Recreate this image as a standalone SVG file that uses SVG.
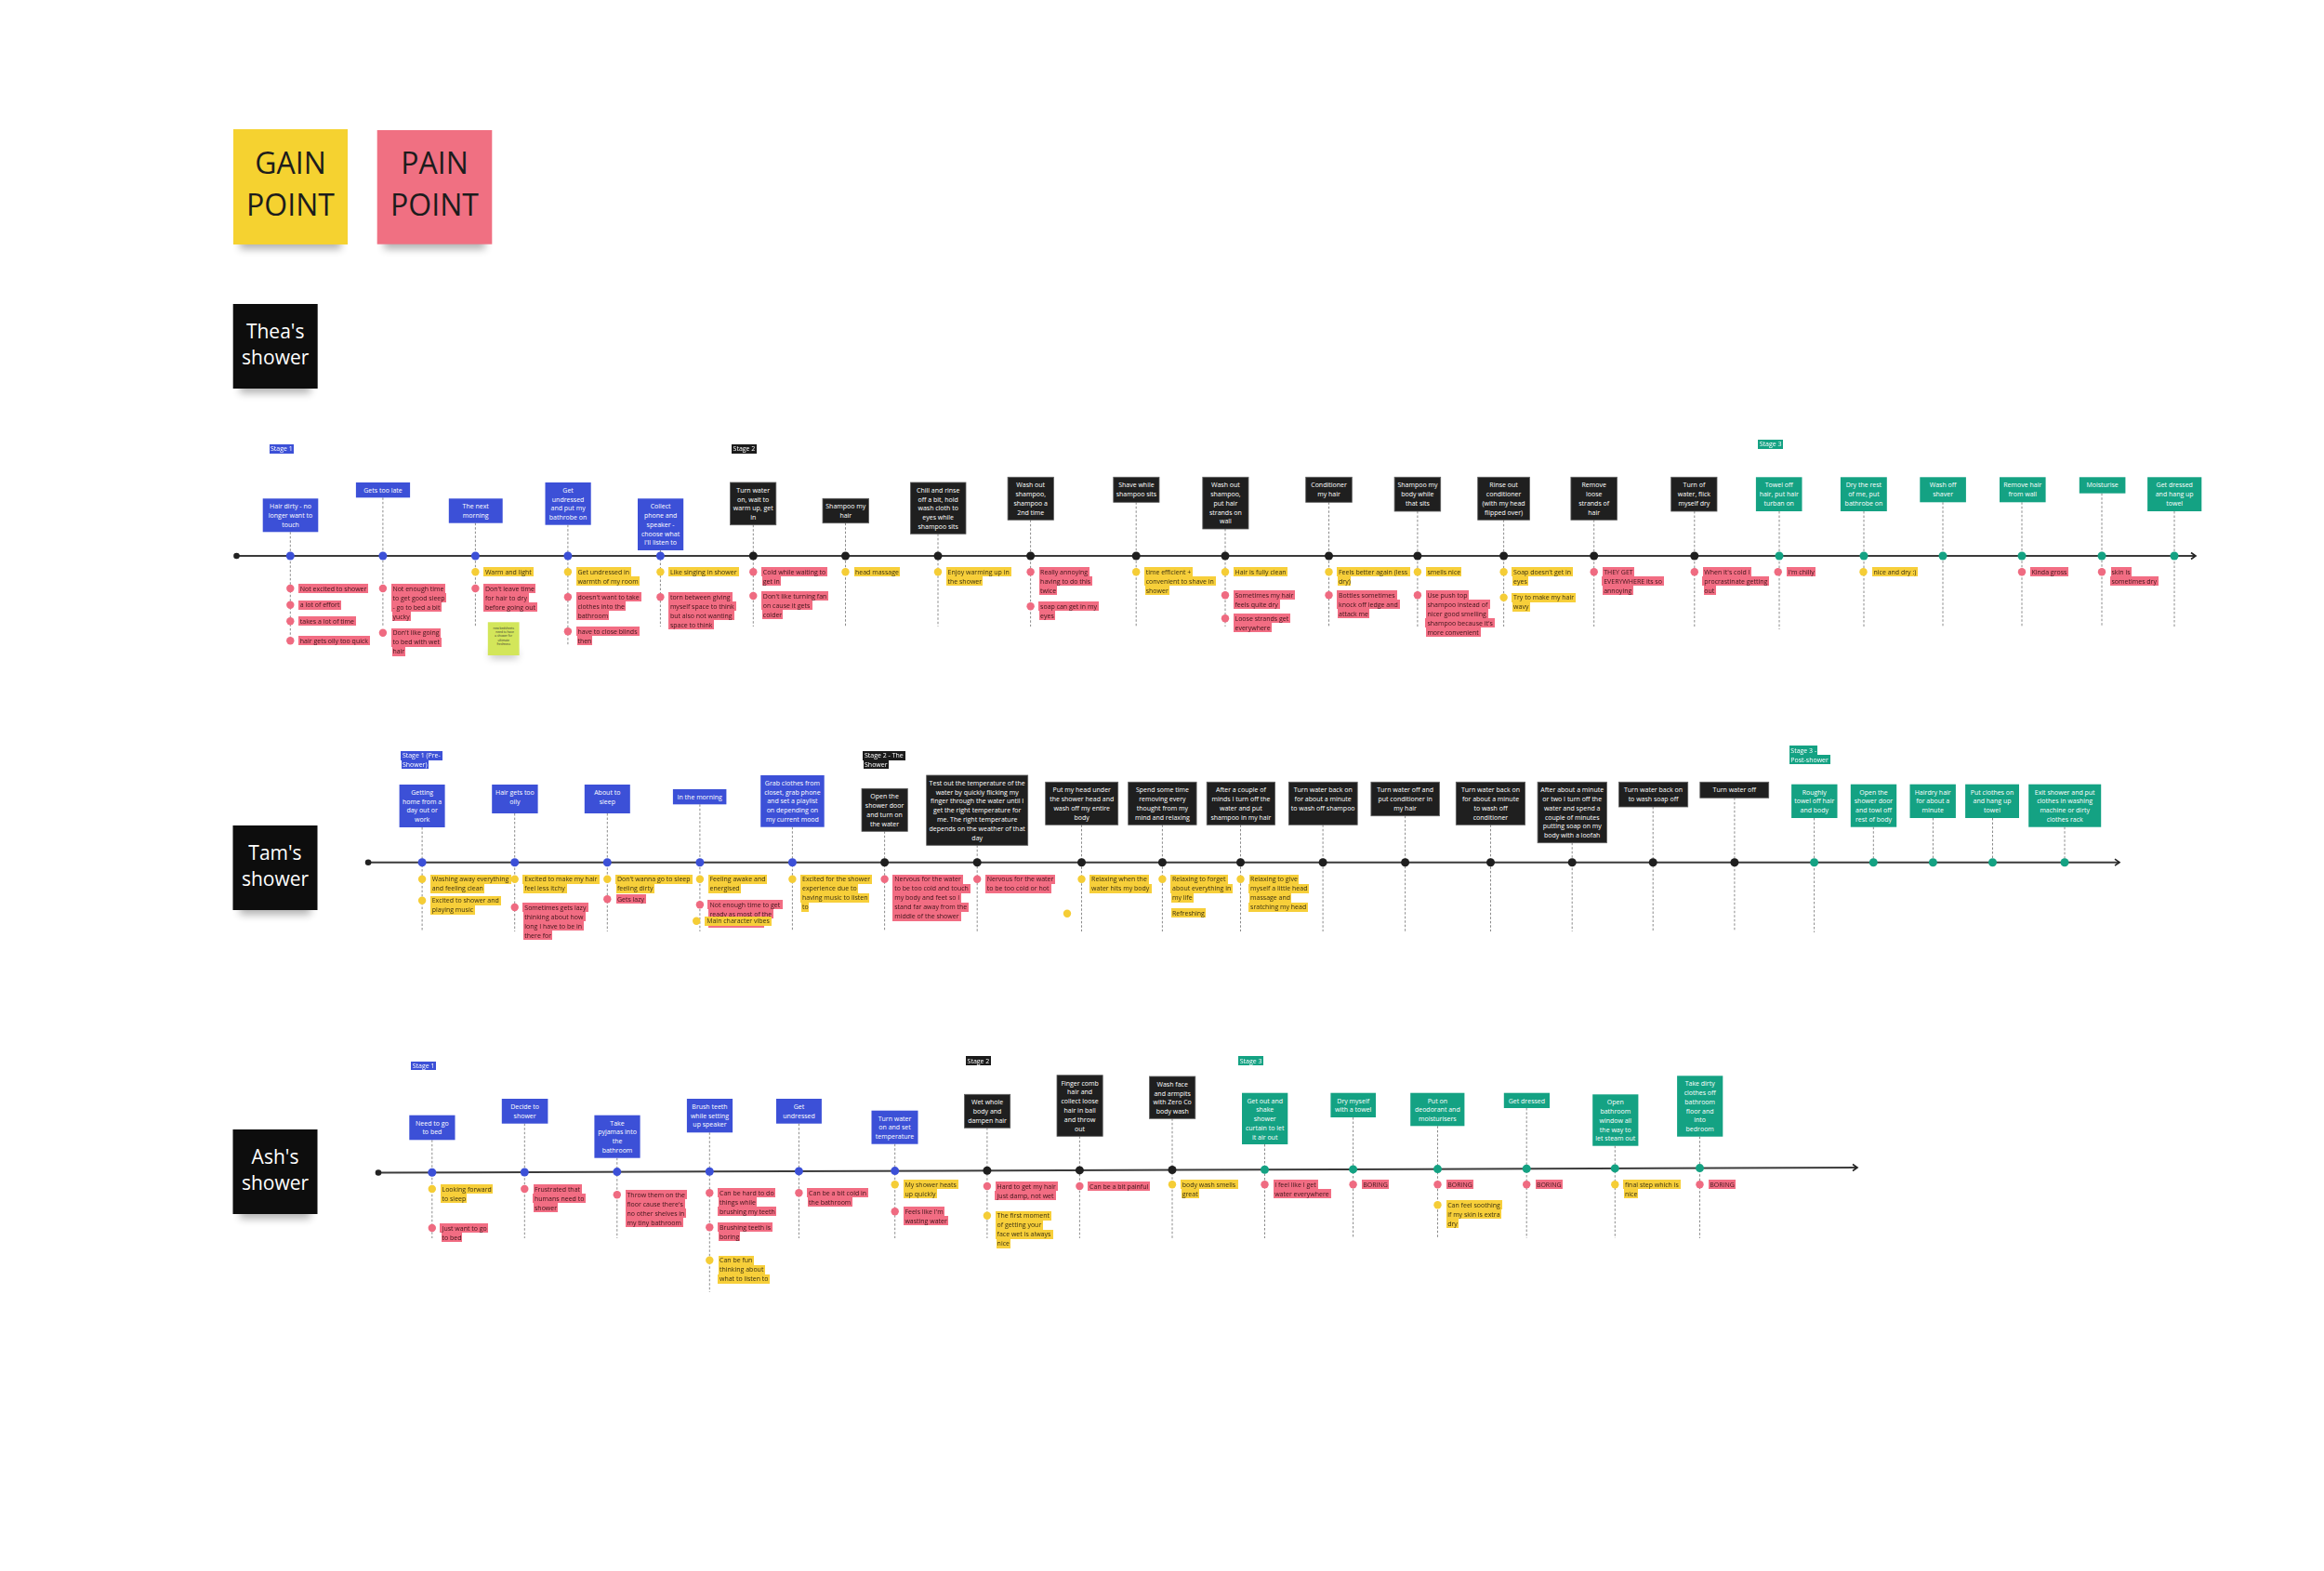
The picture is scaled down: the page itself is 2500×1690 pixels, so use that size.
<svg xmlns="http://www.w3.org/2000/svg" width="2500" height="1690" viewBox="0 0 2500 1690">
<defs>
<style>
text{font-family:"Open Sans","Liberation Sans",Arial,sans-serif}
.bt{font-size:7px;fill:#fff;text-anchor:middle}
.nt{font-size:7px}
.p{fill:#3e1419;filter:url(#fp)}
.y{fill:#3b3110;filter:url(#fy)}
.sl{font-size:7px;fill:#fff}
.sB{filter:url(#fB)} .sK{filter:url(#fK)} .sG{filter:url(#fG)}
.B{fill:#3c50d7} .K{fill:#1f1f1f} .G{fill:#14a283}
rect.K{stroke:#5e5e5e;stroke-width:.8}
.dp{fill:#ef6b81} .dy{fill:#f5cd36}
.st{stroke:#8a8a8a;stroke-width:1;stroke-dasharray:2.5 2;fill:none}
.tl{stroke:#3b3b3b;stroke-width:2;fill:none;marker-end:url(#arr)}
.sd{fill:#222}
.big{font-size:32px;fill:#1c1c1c;text-anchor:middle}
.who{font-size:21px;fill:#fff;text-anchor:middle}
.shd{fill:#000;opacity:.3;filter:url(#blur)}
.tiny{font-size:3.2px;fill:#333;text-anchor:middle}
</style>
<filter id="fp" x="-0.02" y="0" width="1.04" height="1" color-interpolation-filters="sRGB"><feFlood flood-color="#f26d83"/><feComposite in="SourceGraphic" operator="over"/></filter>
<filter id="fy" x="-0.02" y="0" width="1.04" height="1" color-interpolation-filters="sRGB"><feFlood flood-color="#f7cf3a"/><feComposite in="SourceGraphic" operator="over"/></filter>
<filter id="fB" x="-0.03" y="0" width="1.06" height="1" color-interpolation-filters="sRGB"><feFlood flood-color="#3c50d7"/><feComposite in="SourceGraphic" operator="over"/></filter>
<filter id="fK" x="-0.03" y="0" width="1.06" height="1" color-interpolation-filters="sRGB"><feFlood flood-color="#1b1b1b"/><feComposite in="SourceGraphic" operator="over"/></filter>
<filter id="fG" x="-0.03" y="0" width="1.06" height="1" color-interpolation-filters="sRGB"><feFlood flood-color="#14a283"/><feComposite in="SourceGraphic" operator="over"/></filter>
<filter id="blur" x="-30%" y="-100%" width="160%" height="300%"><feGaussianBlur stdDeviation="4"/></filter>
<marker id="arr" markerUnits="userSpaceOnUse" markerWidth="10" markerHeight="10" refX="7" refY="5" orient="auto"><path d="M2,1.5 L7,5 L2,8.5" fill="none" stroke="#222" stroke-width="1.6"/></marker>
</defs>
<rect width="2500" height="1690" fill="#fff"/>

<g id="legend">
<g id="gain-point"><rect class="shd" x="258" y="252" width="109" height="16"/><rect x="251" y="139" width="123" height="124" fill="#f5d230"/><text class="big" x="312.5" y="186.5">GAIN</text><text class="big" x="312.5" y="231.5">POINT</text></g>
<g id="pain-point"><rect class="shd" x="413" y="252" width="109" height="16"/><rect x="405.7" y="140" width="123.6" height="122.7" fill="#f07082"/><text class="big" x="467.5" y="186.5">PAIN</text><text class="big" x="467.5" y="231.5">POINT</text></g>
</g>

<g id="people">
<g id="thea"><rect class="shd" x="258" y="407" width="76" height="16"/><rect x="250.7" y="327" width="91" height="91" fill="#0d0d0d"/><text class="who" x="296.2" y="364">Thea's</text><text class="who" x="296.2" y="392">shower</text></g>
<g id="tam"><rect class="shd" x="258" y="968" width="76" height="16"/><rect x="250.5" y="888" width="91" height="91" fill="#0d0d0d"/><text class="who" x="296" y="925">Tam's</text><text class="who" x="296" y="953">shower</text></g>
<g id="ash"><rect class="shd" x="258" y="1295" width="76" height="16"/><rect x="250.5" y="1215" width="91" height="91" fill="#0d0d0d"/><text class="who" x="296" y="1252">Ash's</text><text class="who" x="296" y="1280">shower</text></g>
</g>

<g id="stages">
<text class="sl sB" x="291" y="485.3">Stage 1</text>
<text class="sl sK" x="788.6" y="485.3">Stage 2</text>
<text class="sl sG" x="1892.7" y="480.3">Stage 3</text>
<text class="sl sB" x="432.9" y="815.2">Stage 1 (Pre-</text>
<text class="sl sB" x="432.9" y="824.8">Shower)</text>
<text class="sl sK" x="930" y="815.2">Stage 2 - The</text>
<text class="sl sK" x="930" y="824.8">Shower</text>
<text class="sl sG" x="1926.3" y="809.8">Stage 3 -</text>
<text class="sl sG" x="1926.3" y="819.8">Post-shower</text>
<text class="sl sB" x="443.7" y="1149">Stage 1</text>
<text class="sl sK" x="1040.6" y="1143.7">Stage 2</text>
<text class="sl sG" x="1333.7" y="1143.7">Stage 3</text>
</g>

<g id="connectors">
<line class="tl" x1="254.5" y1="598" x2="2362" y2="598"/>
<line class="tl" x1="396.1" y1="927.7" x2="2280" y2="927.7"/>
<line class="tl" x1="407" y1="1261.5" x2="1998" y2="1256"/>
<circle class="sd" cx="254.5" cy="598" r="3.3"/>
<circle class="sd" cx="396.1" cy="927.7" r="3.3"/>
<circle class="sd" cx="407" cy="1261.5" r="3.3"/>
<path class="st" d="M312.3 572.3V692M411.9 535.3V674M511.4 562.7V674M610.9 564.7V695M710.4 592V674M810.3 564.7V674M909.5 562.7V674M1009 574.3V674M1108.6 559.3V674M1222.2 540.3V674M1318 569V674M1429.5 540.3V674M1524.9 550V674M1617.6 559.3V674M1714.7 559.3V674M1822.8 550V674M1914 550V677M2005 550V674M2090 540.3V674M2175 540.3V674M2261 530.7V674M2339 550V674"/>
<path class="st" d="M454.1 890V1002M553.7 875V1002M653.3 875V1002M752.9 865.3V1002M852.4 889.7V1002M951.6 894.3V1002M1051.2 909.3V1002M1163.5 887.3V1002M1250.4 887.3V1002M1334.5 887.3V1002M1423.1 887.3V1002M1511.6 877.7V1002M1603.5 887.3V1002M1691.2 906.7V1002M1778.2 868V1002M1865.9 858.3V1002M1951.6 880V1003M2015.3 889.7V927.7M2079.4 880V927.7M2143.5 880V927.7M2221 889.7V927.7"/>
<path class="st" d="M464.8 1226.3V1332M564.3 1208.7V1332M663.8 1245.7V1332M763.3 1218.3V1390M859.4 1208.7V1332M962.7 1230.7V1332M1061.9 1213.3V1332M1161.4 1222.3V1332M1261 1203.3V1332M1360.5 1231V1332M1455.6 1202V1332M1546.5 1211.3V1332M1642.2 1192V1332M1737.3 1232.7V1332M1828.5 1222.7V1332"/>
</g>

<g id="thea-steps">
<g id="r1n1"><rect class="B" x="282.7" y="536.3" width="59.6" height="36"/><text class="bt" x="312.5" y="547.1"><tspan x="312.5">Hair dirty - no</tspan><tspan x="312.5" dy="9.8">longer want to</tspan><tspan x="312.5" dy="9.8">touch</tspan></text><circle class="B" cx="312.3" cy="598" r="4.5"/>
<circle class="dp" cx="312.3" cy="633" r="4.2"/><text class="nt p" x="322.8" y="635.5">Not excited to shower</text>
<circle class="dp" cx="312.3" cy="650.7" r="4.2"/><text class="nt p" x="322.8" y="653.2">a lot of effort</text>
<circle class="dp" cx="312.3" cy="668.3" r="4.2"/><text class="nt p" x="322.8" y="670.8">takes a lot of time</text>
<circle class="dp" cx="312.3" cy="689.3" r="4.2"/><text class="nt p" x="322.8" y="691.8">hair gets oily too quick</text></g>

<g id="r1n2"><rect class="B" x="382.9" y="519" width="58.2" height="16.3"/><text class="bt" x="412" y="529.8">Gets too late</text><circle class="B" cx="411.9" cy="598" r="4.5"/>
<circle class="dp" cx="411.9" cy="633" r="4.2"/><text class="nt p" x="422.4" y="635.5">Not enough time</text><text class="nt p" x="422.4" y="645.5">to get good sleep</text><text class="nt p" x="422.4" y="655.5">- go to bed a bit</text><text class="nt p" x="422.4" y="665.5">yucky</text>
<circle class="dp" cx="411.9" cy="680.7" r="4.2"/><text class="nt p" x="422.4" y="683.2">Don't like going</text><text class="nt p" x="422.4" y="693.2">to bed with wet</text><text class="nt p" x="422.4" y="703.2">hair</text></g>

<g id="r1n3"><rect class="B" x="482.8" y="536.3" width="57.9" height="26.4"/><text class="bt" x="511.7" y="547.1"><tspan x="511.7">The next</tspan><tspan x="511.7" dy="9.8">morning</tspan></text><circle class="B" cx="511.4" cy="598" r="4.5"/>
<circle class="dy" cx="511.4" cy="615.3" r="4.2"/><text class="nt y" x="521.9" y="617.8">Warm and light</text>
<circle class="dp" cx="511.4" cy="633" r="4.2"/><text class="nt p" x="521.9" y="635.5">Don't leave time</text><text class="nt p" x="521.9" y="645.5">for hair to dry</text><text class="nt p" x="521.9" y="655.5">before going out</text></g>

<g id="r1-sticky"><rect x="527" y="700" width="30" height="8" fill="#000" opacity=".25" filter="url(#blur)"/><rect x="524.8" y="669.3" width="33.8" height="35.7" fill="#d3e65a"/><text class="tiny" x="541.7" y="676.5"><tspan x="541.7">new bedsheets</tspan><tspan x="541.7" dy="4.4">= need to have</tspan><tspan x="541.7" dy="4.4">a shower for</tspan><tspan x="541.7" dy="4.4">ultimate</tspan><tspan x="541.7" dy="4.4">freshness</tspan></text></g>

<g id="r1n4"><rect class="B" x="586.5" y="519" width="49.2" height="45.7"/><text class="bt" x="611.1" y="529.8"><tspan x="611.1">Get</tspan><tspan x="611.1" dy="9.8">undressed</tspan><tspan x="611.1" dy="9.8">and put my</tspan><tspan x="611.1" dy="9.8">bathrobe on</tspan></text><circle class="B" cx="610.9" cy="598" r="4.5"/>
<circle class="dy" cx="610.9" cy="615.3" r="4.2"/><text class="nt y" x="621.4" y="617.8">Get undressed in</text><text class="nt y" x="621.4" y="627.8">warmth of my room</text>
<circle class="dp" cx="610.9" cy="642.3" r="4.2"/><text class="nt p" x="621.4" y="644.8">doesn't want to take</text><text class="nt p" x="621.4" y="654.8">clothes into the</text><text class="nt p" x="621.4" y="664.8">bathroom</text>
<circle class="dp" cx="610.9" cy="679.3" r="4.2"/><text class="nt p" x="621.4" y="681.8">have to close blinds</text><text class="nt p" x="621.4" y="691.8">then</text></g>

<g id="r1n5"><rect class="B" x="686" y="536.3" width="49.2" height="55.7"/><text class="bt" x="710.6" y="547.1"><tspan x="710.6">Collect</tspan><tspan x="710.6" dy="9.8">phone and</tspan><tspan x="710.6" dy="9.8">speaker -</tspan><tspan x="710.6" dy="9.8">choose what</tspan><tspan x="710.6" dy="9.8">I'll listen to</tspan></text><circle class="B" cx="710.4" cy="598" r="4.5"/>
<circle class="dy" cx="710.4" cy="615.3" r="4.2"/><text class="nt y" x="720.9" y="617.8">Like singing in shower</text>
<circle class="dp" cx="710.4" cy="642.3" r="4.2"/><text class="nt p" x="720.9" y="644.8">torn between giving</text><text class="nt p" x="720.9" y="654.8">myself space to think</text><text class="nt p" x="720.9" y="664.8">but also not wanting</text><text class="nt p" x="720.9" y="674.8">space to think</text></g>

<g id="r1n6"><rect class="K" x="785.5" y="519" width="49.3" height="45.7"/><text class="bt" x="810.2" y="529.8"><tspan x="810.2">Turn water</tspan><tspan x="810.2" dy="9.8">on, wait to</tspan><tspan x="810.2" dy="9.8">warm up, get</tspan><tspan x="810.2" dy="9.8">in</tspan></text><circle class="K" cx="810.3" cy="598" r="4.5"/>
<circle class="dp" cx="810.3" cy="615.3" r="4.2"/><text class="nt p" x="820.8" y="617.8">Cold while waiting to</text><text class="nt p" x="820.8" y="627.8">get in</text>
<circle class="dp" cx="810.3" cy="641" r="4.2"/><text class="nt p" x="820.8" y="643.5">Don't like turning fan</text><text class="nt p" x="820.8" y="653.5">on cause it gets</text><text class="nt p" x="820.8" y="663.5">colder</text></g>

<g id="r1n7"><rect class="K" x="885" y="536.3" width="49.6" height="26.4"/><text class="bt" x="909.8" y="547.1"><tspan x="909.8">Shampoo my</tspan><tspan x="909.8" dy="9.8">hair</tspan></text><circle class="K" cx="909.5" cy="598" r="4.5"/>
<circle class="dy" cx="909.5" cy="615.3" r="4.2"/><text class="nt y" x="920" y="617.8">head massage</text></g>

<g id="r1n8"><rect class="K" x="979.4" y="519" width="59.6" height="55.3"/><text class="bt" x="1009.2" y="529.8"><tspan x="1009.2">Chill and rinse</tspan><tspan x="1009.2" dy="9.8">off a bit, hold</tspan><tspan x="1009.2" dy="9.8">wash cloth to</tspan><tspan x="1009.2" dy="9.8">eyes while</tspan><tspan x="1009.2" dy="9.8">shampoo sits</tspan></text><circle class="K" cx="1009" cy="598" r="4.5"/>
<circle class="dy" cx="1009" cy="615.3" r="4.2"/><text class="nt y" x="1019.5" y="617.8">Enjoy warming up in</text><text class="nt y" x="1019.5" y="627.8">the shower</text></g>

<g id="r1n9"><rect class="K" x="1084.1" y="513.3" width="49.3" height="46"/><text class="bt" x="1108.7" y="524.1"><tspan x="1108.7">Wash out</tspan><tspan x="1108.7" dy="9.8">shampoo,</tspan><tspan x="1108.7" dy="9.8">shampoo a</tspan><tspan x="1108.7" dy="9.8">2nd time</tspan></text><circle class="K" cx="1108.6" cy="598" r="4.5"/>
<circle class="dp" cx="1108.6" cy="615.3" r="4.2"/><text class="nt p" x="1119.1" y="617.8">Really annoying</text><text class="nt p" x="1119.1" y="627.8">having to do this</text><text class="nt p" x="1119.1" y="637.8">twice</text>
<circle class="dp" cx="1108.6" cy="652.3" r="4.2"/><text class="nt p" x="1119.1" y="654.8">soap can get in my</text><text class="nt p" x="1119.1" y="664.8">eyes</text></g>

<g id="r1n10"><rect class="K" x="1197.8" y="513.3" width="49.2" height="27"/><text class="bt" x="1222.4" y="524.1"><tspan x="1222.4">Shave while</tspan><tspan x="1222.4" dy="9.8">shampoo sits</tspan></text><circle class="K" cx="1222.2" cy="598" r="4.5"/>
<circle class="dy" cx="1222.2" cy="615.3" r="4.2"/><text class="nt y" x="1232.7" y="617.8">time efficient +</text><text class="nt y" x="1232.7" y="627.8">convenient to shave in</text><text class="nt y" x="1232.7" y="637.8">shower</text></g>

<g id="r1n11"><rect class="K" x="1293.8" y="513.3" width="49.2" height="55.7"/><text class="bt" x="1318.4" y="524.1"><tspan x="1318.4">Wash out</tspan><tspan x="1318.4" dy="9.8">shampoo,</tspan><tspan x="1318.4" dy="9.8">put hair</tspan><tspan x="1318.4" dy="9.8">strands on</tspan><tspan x="1318.4" dy="9.8">wall</tspan></text><circle class="K" cx="1318" cy="598" r="4.5"/>
<circle class="dy" cx="1318" cy="615.3" r="4.2"/><text class="nt y" x="1328.5" y="617.8">Hair is fully clean</text>
<circle class="dp" cx="1318" cy="640.3" r="4.2"/><text class="nt p" x="1328.5" y="642.8">Sometimes my hair</text><text class="nt p" x="1328.5" y="652.8">feels quite dry</text>
<circle class="dp" cx="1318" cy="665.3" r="4.2"/><text class="nt p" x="1328.5" y="667.8">Loose strands get</text><text class="nt p" x="1328.5" y="677.8">everywhere</text></g>

<g id="r1n12"><rect class="K" x="1404.7" y="513.3" width="49.6" height="27"/><text class="bt" x="1429.5" y="524.1"><tspan x="1429.5">Conditioner</tspan><tspan x="1429.5" dy="9.8">my hair</tspan></text><circle class="K" cx="1429.5" cy="598" r="4.5"/>
<circle class="dy" cx="1429.5" cy="615.3" r="4.2"/><text class="nt y" x="1440" y="617.8">Feels better again (less</text><text class="nt y" x="1440" y="627.8">dry)</text>
<circle class="dp" cx="1429.5" cy="640.3" r="4.2"/><text class="nt p" x="1440" y="642.8">Bottles sometimes</text><text class="nt p" x="1440" y="652.8">knock off ledge and</text><text class="nt p" x="1440" y="662.8">attack me</text></g>

<g id="r1n13"><rect class="K" x="1500.1" y="513.3" width="49.6" height="36.7"/><text class="bt" x="1524.9" y="524.1"><tspan x="1524.9">Shampoo my</tspan><tspan x="1524.9" dy="9.8">body while</tspan><tspan x="1524.9" dy="9.8">that sits</tspan></text><circle class="K" cx="1524.9" cy="598" r="4.5"/>
<circle class="dy" cx="1524.9" cy="615.3" r="4.2"/><text class="nt y" x="1535.4" y="617.8">smells nice</text>
<circle class="dp" cx="1524.9" cy="640.3" r="4.2"/><text class="nt p" x="1535.4" y="642.8">Use push top</text><text class="nt p" x="1535.4" y="652.8">shampoo instead of</text><text class="nt p" x="1535.4" y="662.8">nicer good smelling</text><text class="nt p" x="1535.4" y="672.8">shampoo because it's</text><text class="nt p" x="1535.4" y="682.8">more convenient</text></g>

<g id="r1n14"><rect class="K" x="1589.7" y="513.3" width="55.8" height="46"/><text class="bt" x="1617.6" y="524.1"><tspan x="1617.6">Rinse out</tspan><tspan x="1617.6" dy="9.8">conditioner</tspan><tspan x="1617.6" dy="9.8">(with my head</tspan><tspan x="1617.6" dy="9.8">flipped over)</tspan></text><circle class="K" cx="1617.6" cy="598" r="4.5"/>
<circle class="dy" cx="1617.6" cy="615.3" r="4.2"/><text class="nt y" x="1628.1" y="617.8">Soap doesn't get in</text><text class="nt y" x="1628.1" y="627.8">eyes</text>
<circle class="dy" cx="1617.6" cy="642.7" r="4.2"/><text class="nt y" x="1628.1" y="645.2">Try to make my hair</text><text class="nt y" x="1628.1" y="655.2">wavy</text></g>

<g id="r1n15"><rect class="K" x="1689.9" y="513.3" width="49.6" height="46"/><text class="bt" x="1714.7" y="524.1"><tspan x="1714.7">Remove</tspan><tspan x="1714.7" dy="9.8">loose</tspan><tspan x="1714.7" dy="9.8">strands of</tspan><tspan x="1714.7" dy="9.8">hair</tspan></text><circle class="K" cx="1714.7" cy="598" r="4.5"/>
<circle class="dp" cx="1714.7" cy="615.3" r="4.2"/><text class="nt p" x="1725.2" y="617.8">THEY GET</text><text class="nt p" x="1725.2" y="627.8">EVERYWHERE its so</text><text class="nt p" x="1725.2" y="637.8">annoying</text></g>

<g id="r1n16"><rect class="K" x="1797.7" y="513.3" width="49.3" height="36.7"/><text class="bt" x="1822.4" y="524.1"><tspan x="1822.4">Turn of</tspan><tspan x="1822.4" dy="9.8">water, flick</tspan><tspan x="1822.4" dy="9.8">myself dry</tspan></text><circle class="K" cx="1822.8" cy="598" r="4.5"/>
<circle class="dp" cx="1822.8" cy="615.3" r="4.2"/><text class="nt p" x="1833.3" y="617.8">When it's cold I</text><text class="nt p" x="1833.3" y="627.8">procrastinate getting</text><text class="nt p" x="1833.3" y="637.8">out</text></g>

<g id="r1n17"><rect class="G" x="1888.9" y="513.3" width="49.6" height="36.7"/><text class="bt" x="1913.7" y="524.1"><tspan x="1913.7">Towel off</tspan><tspan x="1913.7" dy="9.8">hair, put hair</tspan><tspan x="1913.7" dy="9.8">turban on</tspan></text><circle class="G" cx="1914" cy="598" r="4.5"/>
<circle class="dp" cx="1912.7" cy="615.3" r="4.2"/><text class="nt p" x="1923.5" y="617.8">I'm chilly</text></g>

<g id="r1n18"><rect class="G" x="1979.9" y="513.3" width="49.9" height="36.7"/><text class="bt" x="2004.9" y="524.1"><tspan x="2004.9">Dry the rest</tspan><tspan x="2004.9" dy="9.8">of me, put</tspan><tspan x="2004.9" dy="9.8">bathrobe on</tspan></text><circle class="G" cx="2005" cy="598" r="4.5"/>
<circle class="dy" cx="2004.5" cy="615.3" r="4.2"/><text class="nt y" x="2015.5" y="617.8">nice and dry :)</text></g>

<g id="r1n19"><rect class="G" x="2065.3" y="513.3" width="49.6" height="27"/><text class="bt" x="2090.1" y="524.1"><tspan x="2090.1">Wash off</tspan><tspan x="2090.1" dy="9.8">shaver</tspan></text><circle class="G" cx="2090" cy="598" r="4.5"/></g>

<g id="r1n20"><rect class="G" x="2151" y="513.3" width="49.6" height="27"/><text class="bt" x="2175.8" y="524.1"><tspan x="2175.8">Remove hair</tspan><tspan x="2175.8" dy="9.8">from wall</tspan></text><circle class="G" cx="2175" cy="598" r="4.5"/>
<circle class="dp" cx="2175" cy="615.3" r="4.2"/><text class="nt p" x="2185.5" y="617.8">Kinda gross</text></g>

<g id="r1n21"><rect class="G" x="2236.8" y="513.3" width="49.6" height="17.4"/><text class="bt" x="2261.6" y="524.1">Moisturise</text><circle class="G" cx="2261" cy="598" r="4.5"/>
<circle class="dp" cx="2261" cy="615.3" r="4.2"/><text class="nt p" x="2271.5" y="617.8">skin is</text><text class="nt p" x="2271.5" y="627.8">sometimes dry</text></g>

<g id="r1n22"><rect class="G" x="2310.1" y="513.3" width="58.2" height="36.7"/><text class="bt" x="2339.2" y="524.1"><tspan x="2339.2">Get dressed</tspan><tspan x="2339.2" dy="9.8">and hang up</tspan><tspan x="2339.2" dy="9.8">towel</tspan></text><circle class="G" cx="2339" cy="598" r="4.5"/></g>
</g>

<g id="tam-steps">
<g id="r2n1"><rect class="B" x="429.6" y="844" width="49" height="46"/><text class="bt" x="454.1" y="854.8"><tspan x="454.1">Getting</tspan><tspan x="454.1" dy="9.8">home from a</tspan><tspan x="454.1" dy="9.8">day out or</tspan><tspan x="454.1" dy="9.8">work</tspan></text><circle class="B" cx="454.1" cy="927.7" r="4.5"/>
<circle class="dy" cx="454.1" cy="945.7" r="4.2"/><text class="nt y" x="464.7" y="948.2">Washing away everything</text><text class="nt y" x="464.7" y="958.2">and feeling clean</text>
<circle class="dy" cx="454.1" cy="968.7" r="4.2"/><text class="nt y" x="464.7" y="971.2">Excited to shower and</text><text class="nt y" x="464.7" y="981.2">playing music</text></g>

<g id="r2n2"><rect class="B" x="529.2" y="844" width="49.4" height="31"/><text class="bt" x="553.9" y="854.8"><tspan x="553.9">Hair gets too</tspan><tspan x="553.9" dy="9.8">oily</tspan></text><circle class="B" cx="553.7" cy="927.7" r="4.5"/>
<circle class="dy" cx="553.7" cy="945.7" r="4.2"/><text class="nt y" x="564.3" y="948.2">Excited to make my hair</text><text class="nt y" x="564.3" y="958.2">feel less itchy</text>
<circle class="dp" cx="553.7" cy="976" r="4.2"/><text class="nt p" x="564.3" y="978.5">Sometimes gets lazy</text><text class="nt p" x="564.3" y="988.5">thinking about how</text><text class="nt p" x="564.3" y="998.5">long I have to be in</text><text class="nt p" x="564.3" y="1008.5">there for</text></g>

<g id="r2n3"><rect class="B" x="628.8" y="844" width="49" height="31"/><text class="bt" x="653.3" y="854.8"><tspan x="653.3">About to</tspan><tspan x="653.3" dy="9.8">sleep</tspan></text><circle class="B" cx="653.3" cy="927.7" r="4.5"/>
<circle class="dy" cx="653.3" cy="945.7" r="4.2"/><text class="nt y" x="663.9" y="948.2">Don't wanna go to sleep</text><text class="nt y" x="663.9" y="958.2">feeling dirty</text>
<circle class="dp" cx="653.3" cy="967.3" r="4.2"/><text class="nt p" x="663.9" y="969.8">Gets lazy</text></g>

<g id="r2n4"><rect class="B" x="723.9" y="849" width="57.5" height="16.3"/><text class="bt" x="752.7" y="859.8">In the morning</text><circle class="B" cx="752.9" cy="927.7" r="4.5"/>
<circle class="dy" cx="752.9" cy="945.7" r="4.2"/><text class="nt y" x="763.5" y="948.2">Feeling awake and</text><text class="nt y" x="763.5" y="958.2">energised</text>
<circle class="dp" cx="752.9" cy="973.3" r="4.2"/><text class="nt p" x="763.5" y="975.8">Not enough time to get</text><text class="nt p" x="763.5" y="985.8">ready as most of the</text><rect x="762" y="989" width="60" height="9" fill="#f26d83"/>
<circle class="dy" cx="749.2" cy="990.7" r="4.2"/><text class="nt y" x="760.2" y="993.2">Main character vibes</text></g>

<g id="r2n5"><rect class="B" x="818.2" y="834" width="68.5" height="55.7"/><text class="bt" x="852.4" y="844.8"><tspan x="852.4">Grab clothes from</tspan><tspan x="852.4" dy="9.8">closet, grab phone</tspan><tspan x="852.4" dy="9.8">and set a playlist</tspan><tspan x="852.4" dy="9.8">on depending on</tspan><tspan x="852.4" dy="9.8">my current mood</tspan></text><circle class="B" cx="852.4" cy="927.7" r="4.5"/>
<circle class="dy" cx="852.4" cy="945.7" r="4.2"/><text class="nt y" x="863" y="948.2">Excited for the shower</text><text class="nt y" x="863" y="958.2">experience due to</text><text class="nt y" x="863" y="968.2">having music to listen</text><text class="nt y" x="863" y="978.2">to</text></g>

<g id="r2n6"><rect class="K" x="927" y="848.3" width="49.3" height="46"/><text class="bt" x="951.6" y="859.1"><tspan x="951.6">Open the</tspan><tspan x="951.6" dy="9.8">shower door</tspan><tspan x="951.6" dy="9.8">and turn on</tspan><tspan x="951.6" dy="9.8">the water</tspan></text><circle class="K" cx="951.6" cy="927.7" r="4.5"/>
<circle class="dp" cx="951.6" cy="945.7" r="4.2"/><text class="nt p" x="962.2" y="948.2">Nervous for the water</text><text class="nt p" x="962.2" y="958.2">to be too cold and touch</text><text class="nt p" x="962.2" y="968.2">my body and feet so I</text><text class="nt p" x="962.2" y="978.2">stand far away from the</text><text class="nt p" x="962.2" y="988.2">middle of the shower</text></g>

<g id="r2n7"><rect class="K" x="996.7" y="834" width="109" height="75.3"/><text class="bt" x="1051.2" y="844.8"><tspan x="1051.2">Test out the temperature of the</tspan><tspan x="1051.2" dy="9.8">water by quickly flicking my</tspan><tspan x="1051.2" dy="9.8">finger through the water until I</tspan><tspan x="1051.2" dy="9.8">get the right temperature for</tspan><tspan x="1051.2" dy="9.8">me. The right temperature</tspan><tspan x="1051.2" dy="9.8">depends on the weather of that</tspan><tspan x="1051.2" dy="9.8">day</tspan></text><circle class="K" cx="1051.2" cy="927.7" r="4.5"/>
<circle class="dp" cx="1051.2" cy="945.7" r="4.2"/><text class="nt p" x="1061.8" y="948.2">Nervous for the water</text><text class="nt p" x="1061.8" y="958.2">to be too cold or hot</text></g>

<g id="r2n8"><rect class="K" x="1124.7" y="841.3" width="78" height="46"/><text class="bt" x="1163.7" y="852.1"><tspan x="1163.7">Put my head under</tspan><tspan x="1163.7" dy="9.8">the shower head and</tspan><tspan x="1163.7" dy="9.8">wash off my entire</tspan><tspan x="1163.7" dy="9.8">body</tspan></text><circle class="K" cx="1163.5" cy="927.7" r="4.5"/>
<circle class="dy" cx="1163.5" cy="945.7" r="4.2"/><text class="nt y" x="1174.1" y="948.2">Relaxing when the</text><text class="nt y" x="1174.1" y="958.2">water hits my body</text>
<circle class="dy" cx="1148" cy="982.7" r="4.2"/></g>

<g id="r2n9"><rect class="K" x="1213.7" y="841.3" width="73.4" height="46"/><text class="bt" x="1250.4" y="852.1"><tspan x="1250.4">Spend some time</tspan><tspan x="1250.4" dy="9.8">removing every</tspan><tspan x="1250.4" dy="9.8">thought from my</tspan><tspan x="1250.4" dy="9.8">mind and relaxing</tspan></text><circle class="K" cx="1250.4" cy="927.7" r="4.5"/>
<circle class="dy" cx="1250.4" cy="945.7" r="4.2"/><text class="nt y" x="1261" y="948.2">Relaxing to forget</text><text class="nt y" x="1261" y="958.2">about everything in</text><text class="nt y" x="1261" y="968.2">my life</text>
<text class="nt y" x="1261" y="984.8">Refreshing</text></g>

<g id="r2n10"><rect class="K" x="1298.2" y="841.3" width="73.4" height="46"/><text class="bt" x="1334.9" y="852.1"><tspan x="1334.9">After a couple of</tspan><tspan x="1334.9" dy="9.8">minds I turn off the</tspan><tspan x="1334.9" dy="9.8">water and put</tspan><tspan x="1334.9" dy="9.8">shampoo in my hair</tspan></text><circle class="K" cx="1334.5" cy="927.7" r="4.5"/>
<circle class="dy" cx="1334.5" cy="945.7" r="4.2"/><text class="nt y" x="1345.1" y="948.2">Relaxing to give</text><text class="nt y" x="1345.1" y="958.2">myself a little head</text><text class="nt y" x="1345.1" y="968.2">massage and</text><text class="nt y" x="1345.1" y="978.2">sratching my head</text></g>

<g id="r2n11"><rect class="K" x="1386.3" y="841.3" width="73.9" height="46"/><text class="bt" x="1423.2" y="852.1"><tspan x="1423.2">Turn water back on</tspan><tspan x="1423.2" dy="9.8">for about a minute</tspan><tspan x="1423.2" dy="9.8">to wash off shampoo</tspan></text><circle class="K" cx="1423.1" cy="927.7" r="4.5"/></g>

<g id="r2n12"><rect class="K" x="1474.9" y="841.3" width="73.5" height="36.4"/><text class="bt" x="1511.6" y="852.1"><tspan x="1511.6">Turn water off and</tspan><tspan x="1511.6" dy="9.8">put conditioner in</tspan><tspan x="1511.6" dy="9.8">my hair</tspan></text><circle class="K" cx="1511.6" cy="927.7" r="4.5"/></g>

<g id="r2n13"><rect class="K" x="1566.3" y="841.3" width="74.3" height="46"/><text class="bt" x="1603.5" y="852.1"><tspan x="1603.5">Turn water back on</tspan><tspan x="1603.5" dy="9.8">for about a minute</tspan><tspan x="1603.5" dy="9.8">to wash off</tspan><tspan x="1603.5" dy="9.8">conditioner</tspan></text><circle class="K" cx="1603.5" cy="927.7" r="4.5"/></g>

<g id="r2n14"><rect class="K" x="1654.1" y="841.3" width="74.3" height="65.4"/><text class="bt" x="1691.2" y="852.1"><tspan x="1691.2">After about a minute</tspan><tspan x="1691.2" dy="9.8">or two I turn off the</tspan><tspan x="1691.2" dy="9.8">water and spend a</tspan><tspan x="1691.2" dy="9.8">couple of minutes</tspan><tspan x="1691.2" dy="9.8">putting soap on my</tspan><tspan x="1691.2" dy="9.8">body with a loofah</tspan></text><circle class="K" cx="1691.2" cy="927.7" r="4.5"/></g>

<g id="r2n15"><rect class="K" x="1741.4" y="841.3" width="74.3" height="26.7"/><text class="bt" x="1778.5" y="852.1"><tspan x="1778.5">Turn water back on</tspan><tspan x="1778.5" dy="9.8">to wash soap off</tspan></text><circle class="K" cx="1778.2" cy="927.7" r="4.5"/></g>

<g id="r2n16"><rect class="K" x="1828.8" y="841.3" width="73.9" height="17"/><text class="bt" x="1865.8" y="852.1">Turn water off</text><circle class="K" cx="1865.9" cy="927.7" r="4.5"/></g>

<g id="r2n17"><rect class="G" x="1927.1" y="843.7" width="49.4" height="36.3"/><text class="bt" x="1951.8" y="854.5"><tspan x="1951.8">Roughly</tspan><tspan x="1951.8" dy="9.8">towel off hair</tspan><tspan x="1951.8" dy="9.8">and body</tspan></text><circle class="G" cx="1951.6" cy="927.7" r="4.5"/></g>

<g id="r2n18"><rect class="G" x="1990.8" y="843.7" width="49.4" height="46"/><text class="bt" x="2015.5" y="854.5"><tspan x="2015.5">Open the</tspan><tspan x="2015.5" dy="9.8">shower door</tspan><tspan x="2015.5" dy="9.8">and towl off</tspan><tspan x="2015.5" dy="9.8">rest of body</tspan></text><circle class="G" cx="2015.3" cy="927.7" r="4.5"/></g>

<g id="r2n19"><rect class="G" x="2054.5" y="843.7" width="49.4" height="36.3"/><text class="bt" x="2079.2" y="854.5"><tspan x="2079.2">Hairdry hair</tspan><tspan x="2079.2" dy="9.8">for about a</tspan><tspan x="2079.2" dy="9.8">minute</tspan></text><circle class="G" cx="2079.4" cy="927.7" r="4.5"/></g>

<g id="r2n20"><rect class="G" x="2114.1" y="843.7" width="57.9" height="36.3"/><text class="bt" x="2143" y="854.5"><tspan x="2143">Put clothes on</tspan><tspan x="2143" dy="9.8">and hang up</tspan><tspan x="2143" dy="9.8">towel</tspan></text><circle class="G" cx="2143.5" cy="927.7" r="4.5"/></g>

<g id="r2n21"><rect class="G" x="2182.2" y="843.7" width="78" height="46"/><text class="bt" x="2221.2" y="854.5"><tspan x="2221.2">Exit shower and put</tspan><tspan x="2221.2" dy="9.8">clothes in washing</tspan><tspan x="2221.2" dy="9.8">machine or dirty</tspan><tspan x="2221.2" dy="9.8">clothes rack</tspan></text><circle class="G" cx="2221" cy="927.7" r="4.5"/></g>
</g>

<g id="ash-steps">
<g id="r3n1"><rect class="B" x="440.3" y="1199.7" width="49.2" height="26.6"/><text class="bt" x="464.9" y="1210.5"><tspan x="464.9">Need to go</tspan><tspan x="464.9" dy="9.8">to bed</tspan></text><circle class="B" cx="464.8" cy="1261.3" r="4.5"/>
<circle class="dy" cx="464.8" cy="1279" r="4.2"/><text class="nt y" x="475.5" y="1281.5">Looking forward</text><text class="nt y" x="475.5" y="1291.5">to sleep</text>
<circle class="dp" cx="464.8" cy="1321" r="4.2"/><text class="nt p" x="475.5" y="1323.5">Just want to go</text><text class="nt p" x="475.5" y="1333.5">to bed</text></g>

<g id="r3n2"><rect class="B" x="539.8" y="1182" width="49.6" height="26.7"/><text class="bt" x="564.6" y="1192.8"><tspan x="564.6">Decide to</tspan><tspan x="564.6" dy="9.8">shower</tspan></text><circle class="B" cx="564.3" cy="1261" r="4.5"/>
<circle class="dp" cx="564.3" cy="1279" r="4.2"/><text class="nt p" x="575" y="1281.5">Frustrated that</text><text class="nt p" x="575" y="1291.5">humans need to</text><text class="nt p" x="575" y="1301.5">shower</text></g>

<g id="r3n3"><rect class="B" x="639.4" y="1199.7" width="49.2" height="46"/><text class="bt" x="664" y="1210.5"><tspan x="664">Take</tspan><tspan x="664" dy="9.8">pyjamas into</tspan><tspan x="664" dy="9.8">the</tspan><tspan x="664" dy="9.8">bathroom</tspan></text><circle class="B" cx="663.8" cy="1260.6" r="4.5"/>
<circle class="dp" cx="663.8" cy="1285.3" r="4.2"/><text class="nt p" x="674.5" y="1287.8">Throw them on the</text><text class="nt p" x="674.5" y="1297.8">floor cause there's</text><text class="nt p" x="674.5" y="1307.8">no other shelves in</text><text class="nt p" x="674.5" y="1317.8">my tiny bathroom</text></g>

<g id="r3n4"><rect class="B" x="738.9" y="1182" width="49.2" height="36.3"/><text class="bt" x="763.5" y="1192.8"><tspan x="763.5">Brush teeth</tspan><tspan x="763.5" dy="9.8">while setting</tspan><tspan x="763.5" dy="9.8">up speaker</tspan></text><circle class="B" cx="763.3" cy="1260.3" r="4.5"/>
<circle class="dp" cx="763.3" cy="1283.3" r="4.2"/><text class="nt p" x="774" y="1285.8">Can be hard to do</text><text class="nt p" x="774" y="1295.8">things while</text><text class="nt p" x="774" y="1305.8">brushing my teeth</text>
<circle class="dp" cx="763.3" cy="1320.3" r="4.2"/><text class="nt p" x="774" y="1322.8">Brushing teeth is</text><text class="nt p" x="774" y="1332.8">boring</text>
<circle class="dy" cx="763.3" cy="1355.7" r="4.2"/><text class="nt y" x="774" y="1358.2">Can be fun</text><text class="nt y" x="774" y="1368.2">thinking about</text><text class="nt y" x="774" y="1378.2">what to listen to</text></g>

<g id="r3n5"><rect class="B" x="835" y="1182" width="48.9" height="26.7"/><text class="bt" x="859.5" y="1192.8"><tspan x="859.5">Get</tspan><tspan x="859.5" dy="9.8">undressed</tspan></text><circle class="B" cx="859.4" cy="1259.9" r="4.5"/>
<circle class="dp" cx="859.4" cy="1283.3" r="4.2"/><text class="nt p" x="870.1" y="1285.8">Can be a bit cold in</text><text class="nt p" x="870.1" y="1295.8">the bathroom</text></g>

<g id="r3n6"><rect class="B" x="937.5" y="1194.7" width="50" height="36"/><text class="bt" x="962.5" y="1205.5"><tspan x="962.5">Turn water</tspan><tspan x="962.5" dy="9.8">on and set</tspan><tspan x="962.5" dy="9.8">temperature</tspan></text><circle class="B" cx="962.7" cy="1259.6" r="4.5"/>
<circle class="dy" cx="962.7" cy="1274.3" r="4.2"/><text class="nt y" x="973.4" y="1276.8">My shower heats</text><text class="nt y" x="973.4" y="1286.8">up quickly</text>
<circle class="dp" cx="962.7" cy="1303.3" r="4.2"/><text class="nt p" x="973.4" y="1305.8">Feels like I'm</text><text class="nt p" x="973.4" y="1315.8">wasting water</text></g>

<g id="r3n7"><rect class="K" x="1037.5" y="1177.3" width="49.2" height="36"/><text class="bt" x="1062.1" y="1188.1"><tspan x="1062.1">Wet whole</tspan><tspan x="1062.1" dy="9.8">body and</tspan><tspan x="1062.1" dy="9.8">dampen hair</tspan></text><circle class="K" cx="1061.9" cy="1259.2" r="4.5"/>
<circle class="dp" cx="1061.9" cy="1276" r="4.2"/><text class="nt p" x="1072.6" y="1278.5">Hard to get my hair</text><text class="nt p" x="1072.6" y="1288.5">just damp, not wet</text>
<circle class="dy" cx="1061.9" cy="1307.7" r="4.2"/><text class="nt y" x="1072.6" y="1310.2">The first moment</text><text class="nt y" x="1072.6" y="1320.2">of getting your</text><text class="nt y" x="1072.6" y="1330.2">face wet is always</text><text class="nt y" x="1072.6" y="1340.2">nice</text></g>

<g id="r3n8"><rect class="K" x="1137" y="1156.7" width="49.2" height="65.6"/><text class="bt" x="1161.6" y="1167.5"><tspan x="1161.6">Finger comb</tspan><tspan x="1161.6" dy="9.8">hair and</tspan><tspan x="1161.6" dy="9.8">collect loose</tspan><tspan x="1161.6" dy="9.8">hair in ball</tspan><tspan x="1161.6" dy="9.8">and throw</tspan><tspan x="1161.6" dy="9.8">out</tspan></text><circle class="K" cx="1161.4" cy="1258.9" r="4.5"/>
<circle class="dp" cx="1161.4" cy="1276" r="4.2"/><text class="nt p" x="1172.1" y="1278.5">Can be a bit painful</text></g>

<g id="r3n9"><rect class="K" x="1236.5" y="1158" width="49.3" height="45.3"/><text class="bt" x="1261.2" y="1168.8"><tspan x="1261.2">Wash face</tspan><tspan x="1261.2" dy="9.8">and armpits</tspan><tspan x="1261.2" dy="9.8">with Zero Co</tspan><tspan x="1261.2" dy="9.8">body wash</tspan></text><circle class="K" cx="1261" cy="1258.5" r="4.5"/>
<circle class="dy" cx="1261" cy="1274.3" r="4.2"/><text class="nt y" x="1271.7" y="1276.8">body wash smells</text><text class="nt y" x="1271.7" y="1286.8">great</text></g>

<g id="r3n10"><rect class="G" x="1336" y="1175.7" width="49.3" height="55.3"/><text class="bt" x="1360.7" y="1186.5"><tspan x="1360.7">Get out and</tspan><tspan x="1360.7" dy="9.8">shake</tspan><tspan x="1360.7" dy="9.8">shower</tspan><tspan x="1360.7" dy="9.8">curtain to let</tspan><tspan x="1360.7" dy="9.8">it air out</tspan></text><circle class="G" cx="1360.5" cy="1258.2" r="4.5"/>
<circle class="dp" cx="1360.5" cy="1274.3" r="4.2"/><text class="nt p" x="1371.2" y="1276.8">I feel like I get</text><text class="nt p" x="1371.2" y="1286.8">water everywhere</text></g>

<g id="r3n11"><rect class="G" x="1431.4" y="1175.7" width="48.6" height="26.3"/><text class="bt" x="1455.7" y="1186.5"><tspan x="1455.7">Dry myself</tspan><tspan x="1455.7" dy="9.8">with a towel</tspan></text><circle class="G" cx="1455.6" cy="1257.9" r="4.5"/>
<circle class="dp" cx="1455.6" cy="1274.3" r="4.2"/><text class="nt p" x="1466.3" y="1276.8">BORING</text></g>

<g id="r3n12"><rect class="G" x="1517.2" y="1175.7" width="58.2" height="35.6"/><text class="bt" x="1546.3" y="1186.5"><tspan x="1546.3">Put on</tspan><tspan x="1546.3" dy="9.8">deodorant and</tspan><tspan x="1546.3" dy="9.8">moisturisers</tspan></text><circle class="G" cx="1546.5" cy="1257.6" r="4.5"/>
<circle class="dp" cx="1546.5" cy="1274.3" r="4.2"/><text class="nt p" x="1557.2" y="1276.8">BORING</text>
<circle class="dy" cx="1546.5" cy="1296.3" r="4.2"/><text class="nt y" x="1557.2" y="1298.8">Can feel soothing</text><text class="nt y" x="1557.2" y="1308.8">if my skin is extra</text><text class="nt y" x="1557.2" y="1318.8">dry</text></g>

<g id="r3n13"><rect class="G" x="1617.8" y="1175.7" width="49.2" height="16.3"/><text class="bt" x="1642.4" y="1186.5">Get dressed</text><circle class="G" cx="1642.2" cy="1257.2" r="4.5"/>
<circle class="dp" cx="1642.2" cy="1274.3" r="4.2"/><text class="nt p" x="1652.9" y="1276.8">BORING</text></g>

<g id="r3n14"><rect class="G" x="1713.2" y="1177.3" width="49.2" height="55.4"/><text class="bt" x="1737.8" y="1188.1"><tspan x="1737.8">Open</tspan><tspan x="1737.8" dy="9.8">bathroom</tspan><tspan x="1737.8" dy="9.8">window all</tspan><tspan x="1737.8" dy="9.8">the way to</tspan><tspan x="1737.8" dy="9.8">let steam out</tspan></text><circle class="G" cx="1737.3" cy="1256.9" r="4.5"/>
<circle class="dy" cx="1737.3" cy="1274.3" r="4.2"/><text class="nt y" x="1748" y="1276.8">final step which is</text><text class="nt y" x="1748" y="1286.8">nice</text></g>

<g id="r3n15"><rect class="G" x="1804.1" y="1157.3" width="49.2" height="65.4"/><text class="bt" x="1828.7" y="1168.1"><tspan x="1828.7">Take dirty</tspan><tspan x="1828.7" dy="9.8">clothes off</tspan><tspan x="1828.7" dy="9.8">bathroom</tspan><tspan x="1828.7" dy="9.8">floor and</tspan><tspan x="1828.7" dy="9.8">into</tspan><tspan x="1828.7" dy="9.8">bedroom</tspan></text><circle class="G" cx="1828.5" cy="1256.6" r="4.5"/>
<circle class="dp" cx="1828.5" cy="1274.3" r="4.2"/><text class="nt p" x="1839.2" y="1276.8">BORING</text></g>
</g>
</svg>
